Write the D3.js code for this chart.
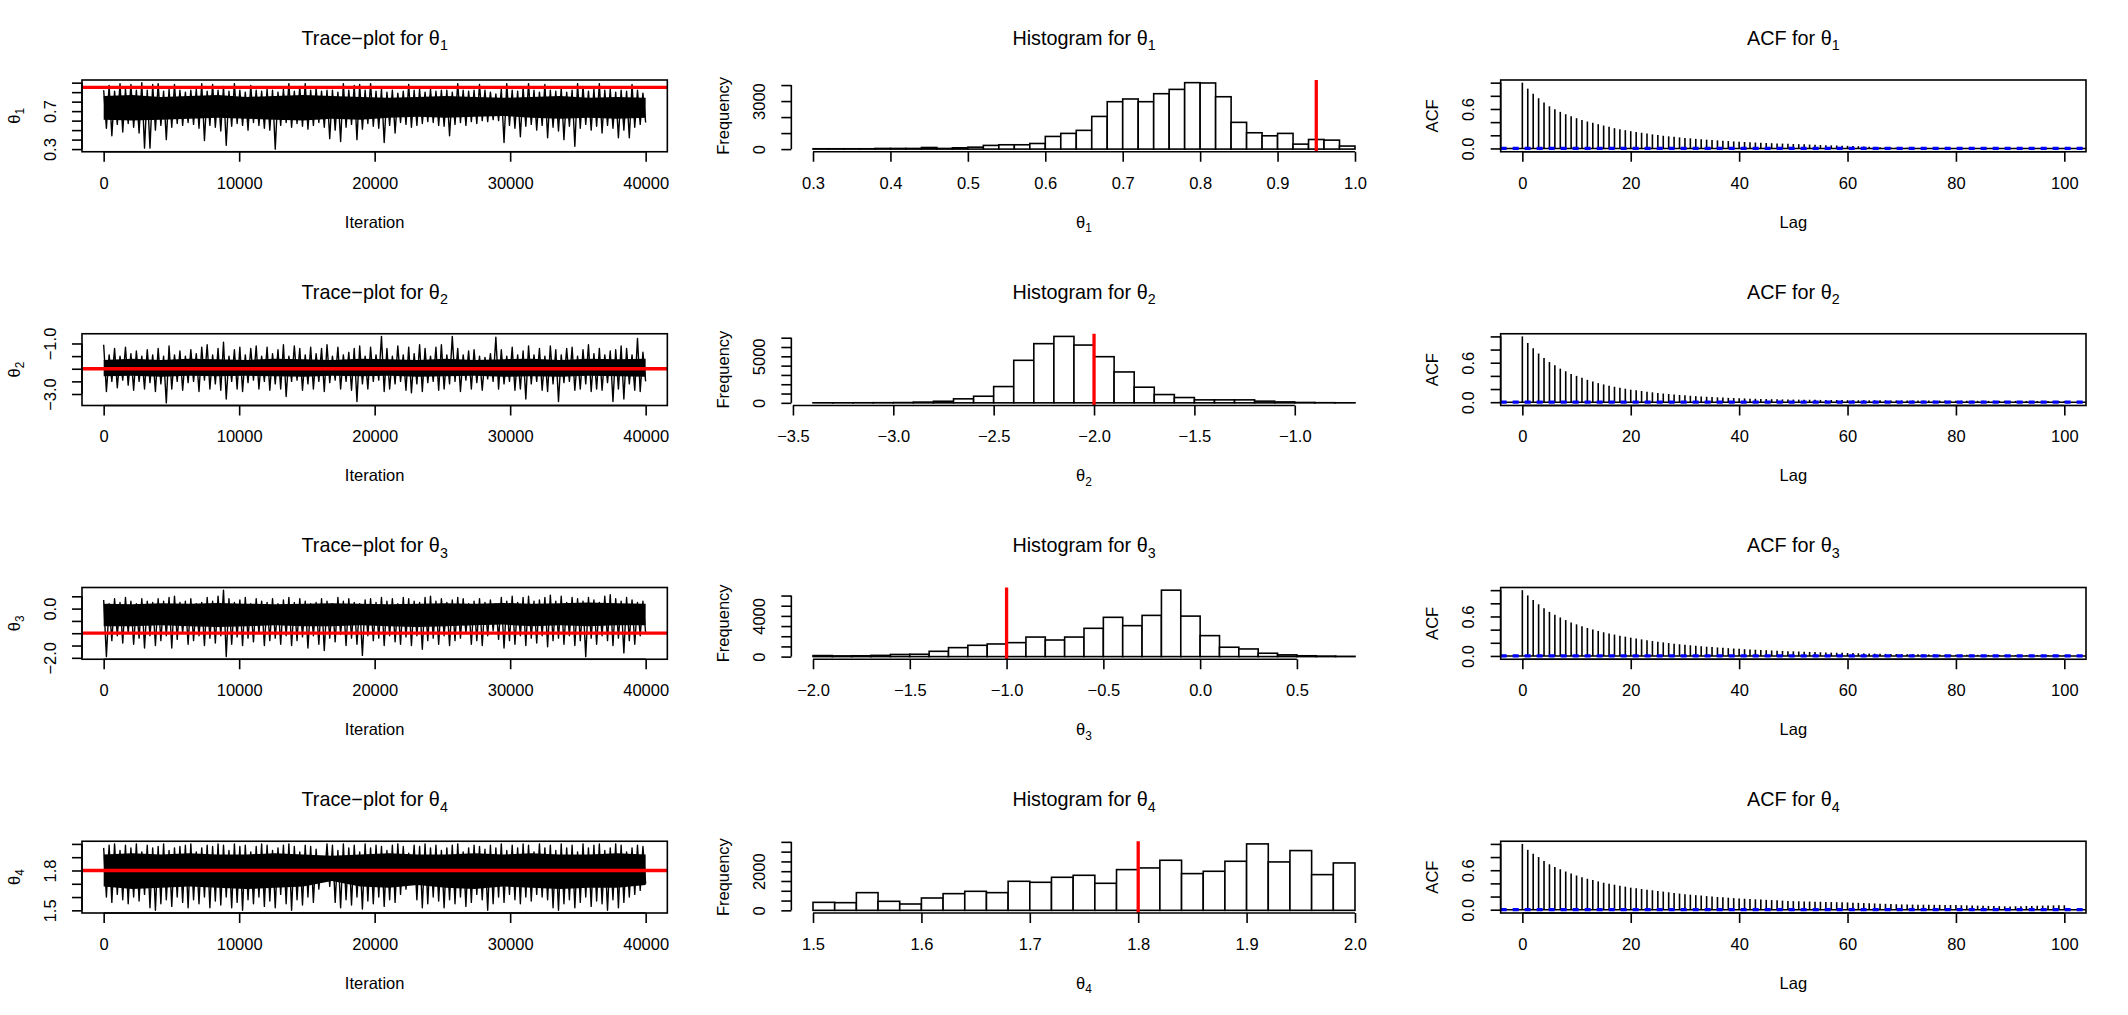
<!DOCTYPE html>
<html><head><meta charset="utf-8">
<script src="https://cdn.jsdelivr.net/npm/d3@7"></script>
<style>
body{margin:0;background:#fff}
svg{display:block;background:#fff}
</style>
</head><body>
<svg id="c" width="2128" height="1015"></svg>
<script>
// ---------------- DATA ----------------
const paramSubs = ["1","2","3","4"];
const trueValues = [0.95, -2.0, -1.0, 1.8];
const nIter = 40000;

// Trace extremes (upper / lower value per block of 400 iterations)
const hi1 = [0.92,0.97,0.91,0.99,0.93,0.98,0.92,1.00,0.92,0.98, 0.99,0.91,0.93,0.98,0.92,0.90,0.92,0.93,0.99,0.91,
 0.98,0.92,0.96,0.91,0.99,0.92,0.90,0.97,0.92,0.91, 0.93,0.92,0.90,0.93,0.99,0.91,0.96,0.99,0.92,0.94,
 0.91,0.92,0.92,0.90,0.99,0.92,0.97,0.98,0.92,0.99, 0.91,0.93,0.90,0.92,0.89,0.91,0.98,0.92,0.93,0.90,
 0.93,0.91,0.92,0.92,0.90,0.99,0.92,0.91,0.92,0.98, 0.92,0.90,0.88,0.93,0.99,0.92,0.91,0.95,0.99,0.92,
 0.90,0.98,0.92,0.91,0.94,0.90,0.92,0.99,0.96,0.91, 0.93,0.99,0.92,0.93,0.90,0.92,0.91,0.98,0.92,0.89];
const lo1 = [0.52,0.44,0.56,0.48,0.57,0.53,0.47,0.31,0.31,0.50, 0.55,0.40,0.53,0.57,0.55,0.58,0.56,0.52,0.39,0.55,
 0.53,0.49,0.34,0.54,0.57,0.55,0.50,0.58,0.55,0.52, 0.50,0.30,0.55,0.58,0.53,0.57,0.54,0.51,0.55,0.58,
 0.53,0.41,0.50,0.38,0.53,0.56,0.40,0.51,0.57,0.54, 0.52,0.37,0.55,0.47,0.58,0.56,0.53,0.55,0.57,0.59,
 0.58,0.55,0.54,0.44,0.56,0.58,0.55,0.59,0.57,0.60, 0.59,0.61,0.60,0.37,0.55,0.52,0.43,0.54,0.56,0.50,
 0.55,0.42,0.53,0.49,0.40,0.54,0.33,0.52,0.56,0.50, 0.54,0.47,0.55,0.52,0.42,0.50,0.42,0.53,0.56,0.58];
const hi2 = [-1.05,-1.45,-1.2,-1.5,-1.15,-1.4,-1.3,-1.5,-1.25,-1.45, -1.2,-1.5,-1.1,-1.45,-1.3,-1.5,-1.25,-1.4,-1.15,-1.05,
 -1.45,-1.2,-0.95,-1.5,-1.25,-1.15,-1.45,-1.2,-1.1,-1.5, -1.15,-1.4,-1.25,-1.05,-1.5,-1.1,-1.2,-1.45,-1.15,-1.4,
 -1.2,-1.05,-1.5,-1.15,-1.45,-1.35,-1.2,-1.1,-1.5,-1.15, -1.45,-0.72,-1.2,-1.5,-1.1,-1.45,-1.15,-1.4,-1.05,-1.2,
 -1.5,-1.15,-1.05,-1.45,-0.72,-1.2,-1.45,-1.3,-1.25,-1.5, -1.55,-1.4,-0.75,-1.25,-1.5,-1.15,-1.45,-1.3,-1.1,-1.45,
 -1.2,-1.5,-1.1,-1.25,-1.45,-1.2,-1.15,-1.5,-1.25,-1.05, -1.4,-1.2,-1.45,-1.3,-1.25,-1.1,-1.2,-1.45,-0.8,-1.35];
const lo2 = [-2.9,-2.5,-2.75,-2.45,-2.65,-2.85,-2.5,-2.8,-2.55,-2.9, -2.6,-3.35,-2.8,-2.5,-2.85,-2.55,-2.5,-2.9,-2.45,-2.8,
 -2.6,-2.85,-3.2,-2.5,-2.8,-2.9,-2.55,-2.45,-2.8,-2.5, -2.85,-2.6,-2.8,-3.1,-2.5,-2.45,-2.85,-2.6,-2.8,-2.5,
 -2.9,-2.55,-2.45,-2.8,-2.5,-2.85,-3.3,-2.6,-2.8,-2.5, -2.45,-2.9,-2.8,-2.6,-2.5,-2.85,-2.95,-2.6,-2.9,-2.55,
 -2.5,-2.85,-2.8,-2.6,-2.5,-2.9,-2.45,-2.8,-2.55,-2.85, -2.4,-2.5,-2.8,-2.6,-2.5,-2.85,-2.8,-3.2,-2.6,-2.5,
 -2.85,-2.9,-2.6,-3.3,-2.55,-2.5,-2.85,-2.8,-2.6,-2.9, -2.8,-2.85,-2.55,-3.3,-2.8,-3.2,-2.6,-2.85,-2.9,-2.5];
const hi3 = [0.35,0.2,0.4,0.25,0.45,0.3,0.2,0.4,0.3,0.25, 0.4,0.3,0.45,0.5,0.25,0.3,0.4,0.2,0.25,0.45,
 0.3,0.5,0.75,0.4,0.25,0.35,0.45,0.2,0.4,0.3, 0.25,0.4,0.2,0.35,0.45,0.25,0.4,0.3,0.2,0.25,
 0.4,0.3,0.2,0.45,0.3,0.4,0.25,0.2,0.35,0.4, 0.25,0.45,0.3,0.4,0.2,0.45,0.4,0.3,0.25,0.45,
 0.5,0.3,0.4,0.25,0.35,0.45,0.4,0.2,0.3,0.4, 0.25,0.35,0.2,0.45,0.3,0.5,0.25,0.45,0.5,0.3,
 0.35,0.45,0.55,0.3,0.5,0.25,0.45,0.4,0.3,0.45, 0.35,0.25,0.5,0.57,0.4,0.3,0.45,0.35,0.25,0.3];
const lo3 = [-1.95,-1.3,-1.1,-1.4,-1.0,-1.45,-1.2,-1.6,-1.1,-1.5, -1.3,-1.1,-1.6,-1.25,-1.0,-1.45,-1.3,-1.1,-1.5,-1.2,
 -1.4,-1.1,-1.95,-1.45,-1.15,-1.5,-1.2,-1.35,-1.0,-1.5, -1.3,-1.2,-1.45,-1.1,-1.5,-1.3,-1.15,-1.6,-1.1,-1.45,
 -1.7,-1.2,-1.35,-1.05,-1.5,-1.2,-1.45,-1.9,-1.1,-1.3, -1.2,-1.5,-1.1,-1.35,-1.45,-1.15,-1.5,-1.1,-1.65,-1.3,
 -1.2,-1.45,-1.1,-1.5,-1.3,-1.2,-1.0,-1.45,-1.3,-1.5, -1.1,-0.9,-1.25,-1.6,-1.3,-1.45,-1.1,-1.5,-1.2,-1.4,
 -1.1,-1.55,-1.3,-1.2,-1.45,-1.1,-1.5,-1.3,-1.95,-1.2, -1.45,-1.1,-1.3,-1.5,-1.2,-1.8,-1.3,-1.45,-1.1,-1.0];
const hi4 = [1.97,1.99,2.0,1.95,1.99,1.97,2.0,1.94,1.99,1.97, 1.98,2.0,1.95,1.97,1.98,1.99,2.0,1.94,1.97,1.99,
 1.98,2.0,1.99,1.95,2.0,1.98,1.99,1.94,1.98,2.0, 1.99,1.95,1.97,1.99,2.0,1.98,1.94,1.99,1.98,1.96,
 1.9,2.0,1.99,1.95,2.0,1.97,1.99,1.94,2.0,1.97, 1.99,1.98,1.95,1.99,2.0,1.98,1.93,1.99,1.98,2.0,
 1.97,1.99,1.95,1.97,1.99,2.0,1.94,1.97,1.99,1.98, 1.96,1.99,1.97,2.0,1.95,1.99,1.97,2.0,1.99,1.94,
 2.0,1.97,1.99,1.95,2.0,1.97,1.99,1.94,2.0,1.97, 1.99,2.0,1.95,1.97,2.0,1.99,1.94,1.97,1.99,1.98];
const lo4 = [1.6,1.56,1.62,1.58,1.55,1.6,1.57,1.62,1.52,1.5, 1.55,1.58,1.53,1.6,1.56,1.52,1.58,1.55,1.6,1.52,
 1.57,1.54,1.6,1.52,1.56,1.5,1.58,1.55,1.6,1.53, 1.57,1.52,1.62,1.55,1.5,1.58,1.54,1.6,1.56,1.66,
 1.72,1.68,1.56,1.52,1.58,1.54,1.6,1.51,1.57,1.55, 1.6,1.53,1.58,1.56,1.62,1.66,1.7,1.58,1.52,1.55,
 1.6,1.57,1.52,1.58,1.55,1.6,1.53,1.56,1.62,1.58, 1.5,1.55,1.6,1.56,1.62,1.58,1.55,1.6,1.57,1.62,
 1.6,1.58,1.52,1.5,1.55,1.58,1.52,1.56,1.6,1.53, 1.57,1.55,1.5,1.58,1.52,1.56,1.6,1.62,1.65,1.7];
// Dense core of each trace (upper / lower edge per block of 2000 iterations)
const coreHi1 = [0.86,0.87,0.85,0.86,0.87,0.85,0.86,0.87,0.86,0.85,0.84,0.85,0.86,0.85,0.84,0.85,0.86,0.84,0.85,0.84];
const coreLo1 = [0.61,0.60,0.61,0.62,0.63,0.62,0.61,0.60,0.62,0.61,0.63,0.64,0.63,0.64,0.65,0.63,0.62,0.63,0.62,0.63];
const coreHi2 = [-1.65,-1.6,-1.65,-1.6,-1.62,-1.65,-1.6,-1.62,-1.65,-1.6,-1.62,-1.65,-1.6,-1.65,-1.62,-1.6,-1.65,-1.6,-1.62,-1.6];
const coreLo2 = [-2.3,-2.28,-2.32,-2.28,-2.3,-2.28,-2.3,-2.32,-2.28,-2.3,-2.28,-2.32,-2.3,-2.28,-2.32,-2.3,-2.32,-2.28,-2.3,-2.32];
const coreHi3 = [0.2,0.18,0.22,0.2,0.23,0.2,0.18,0.2,0.22,0.2,0.18,0.2,0.22,0.2,0.23,0.2,0.22,0.25,0.22,0.2];
const coreLo3 = [-0.72,-0.72,-0.68,-0.72,-0.75,-0.72,-0.68,-0.72,-0.72,-0.68,-0.72,-0.75,-0.72,-0.68,-0.65,-0.72,-0.68,-0.72,-0.68,-0.68];
const coreHi4 = [1.92,1.93,1.92,1.93,1.92,1.92,1.93,1.92,1.91,1.92,1.93,1.92,1.92,1.93,1.92,1.93,1.92,1.92,1.93,1.92];
const coreLo4 = [1.68,1.66,1.67,1.68,1.67,1.66,1.67,1.68,1.72,1.68,1.67,1.69,1.67,1.66,1.68,1.67,1.66,1.67,1.67,1.69];

// Histograms: first break, bin width, counts
const histStart = [0.3, -3.4, -2.0, 1.5];
const histWidth = [0.02, 0.1, 0.1, 0.02];
const counts1 = [20,20,20,20,40,40,40,100,40,80,120,230,270,270,350,790,980,1170,2040,2960,3130,2960,3460,3730,4150,4130,3270,1670,1020,830,980,310,600,560,190];
const counts2 = [5,5,10,15,30,80,170,430,710,1750,4570,6360,7140,6210,4960,3320,1680,890,570,320,320,320,180,100,40,15,5];
const counts3 = [100,70,80,120,210,230,520,880,1110,1240,1370,1920,1630,1920,2780,3860,3040,4050,6530,3980,2060,920,750,330,170,80,50,25];
const counts4 = [409,392,904,461,324,631,853,972,904,1484,1433,1689,1791,1382,2081,2167,2559,1877,1996,2508,3395,2474,3054,1825,2422];

// ACF (lags 0..100)
const acf1 = [1.000,0.909,0.833,0.763,0.697,0.641,0.596,0.556,0.520,0.490,
 0.460,0.434,0.409,0.389,0.369,0.348,0.328,0.308,0.293,0.278,
 0.263,0.250,0.238,0.226,0.214,0.203,0.193,0.184,0.176,0.168,
 0.160,0.153,0.146,0.140,0.134,0.128,0.122,0.117,0.112,0.107,
 0.102,0.098,0.094,0.090,0.087,0.083,0.080,0.077,0.074,0.071,
 0.068,0.065,0.062,0.059,0.056,0.053,0.050,0.047,0.045,0.042,
 0.040,0.037,0.034,0.030,0.026,0.022,0.019,0.016,0.014,0.012,
 0.010,0.009,0.008,0.008,0.007,0.007,0.006,0.006,0.005,0.005,
 0.005,0.004,0.004,0.004,0.003,0.003,0.003,0.003,0.002,0.002,
 0.002,0.002,0.002,0.001,0.001,0.001,0.001,0.001,0.001,0.001,0.001];
const acf2 = [1.000,0.900,0.820,0.740,0.670,0.610,0.560,0.510,0.470,0.430,
 0.400,0.370,0.340,0.315,0.290,0.270,0.250,0.235,0.220,0.205,
 0.190,0.180,0.170,0.160,0.150,0.140,0.132,0.125,0.118,0.110,
 0.104,0.098,0.093,0.088,0.083,0.078,0.074,0.070,0.066,0.063,
 0.060,0.057,0.054,0.052,0.050,0.048,0.046,0.044,0.042,0.041,
 0.040,0.039,0.038,0.037,0.036,0.035,0.034,0.033,0.033,0.032,
 0.031,0.031,0.030,0.030,0.029,0.029,0.028,0.028,0.027,0.027,
 0.026,0.026,0.026,0.025,0.025,0.025,0.024,0.024,0.024,0.023,
 0.023,0.023,0.022,0.022,0.022,0.022,0.021,0.021,0.021,0.021,
 0.020,0.020,0.020,0.020,0.020,0.019,0.019,0.019,0.019,0.019,0.018];
const acf3 = [1.000,0.920,0.850,0.785,0.725,0.670,0.625,0.585,0.545,0.510,
 0.480,0.452,0.425,0.402,0.380,0.360,0.342,0.325,0.308,0.293,
 0.278,0.265,0.252,0.240,0.228,0.217,0.206,0.196,0.187,0.178,
 0.170,0.162,0.155,0.148,0.141,0.135,0.129,0.123,0.118,0.113,
 0.108,0.103,0.099,0.095,0.091,0.087,0.083,0.080,0.076,0.073,
 0.070,0.067,0.064,0.061,0.059,0.056,0.054,0.051,0.049,0.047,
 0.045,0.043,0.041,0.039,0.037,0.035,0.034,0.032,0.031,0.030,
 0.028,0.027,0.026,0.025,0.024,0.023,0.022,0.021,0.020,0.020,
 0.019,0.018,0.018,0.017,0.017,0.016,0.016,0.015,0.015,0.015,
 0.014,0.014,0.014,0.013,0.013,0.013,0.012,0.012,0.012,0.012,0.012];
const acf4 = [1.000,0.910,0.850,0.800,0.740,0.690,0.650,0.615,0.580,0.550,
 0.520,0.495,0.470,0.450,0.430,0.410,0.395,0.380,0.365,0.350,
 0.335,0.325,0.315,0.305,0.295,0.285,0.275,0.265,0.255,0.245,
 0.235,0.228,0.221,0.214,0.207,0.200,0.194,0.188,0.182,0.176,
 0.170,0.166,0.162,0.158,0.154,0.150,0.146,0.142,0.138,0.134,
 0.130,0.128,0.126,0.124,0.122,0.120,0.118,0.116,0.114,0.112,
 0.110,0.107,0.104,0.101,0.098,0.095,0.092,0.089,0.086,0.083,
 0.080,0.079,0.078,0.077,0.076,0.075,0.074,0.073,0.072,0.071,
 0.070,0.068,0.066,0.064,0.062,0.060,0.058,0.056,0.054,0.052,
 0.050,0.052,0.054,0.056,0.058,0.060,0.062,0.064,0.066,0.068,0.068];
const acfBound = 0.0098;

// Tick values and labels
const iterTicks = [0,10000,20000,30000,40000];
const iterLabels = ["0","10000","20000","30000","40000"];
const traceYTicks = [[0.3,0.4,0.5,0.6,0.7,0.8,0.9,1.0],[-3.0,-2.5,-2.0,-1.5,-1.0],[-2.0,-1.5,-1.0,-0.5,0.0,0.5],[1.5,1.6,1.7,1.8,1.9,2.0]];
const traceYLabels = [["0.3","","","","0.7","","",""],["−3.0","","","","−1.0"],["−2.0","","","","0.0",""],["1.5","","","1.8","",""]];
const histXTicks = [[0.3,0.4,0.5,0.6,0.7,0.8,0.9,1.0],[-3.5,-3.0,-2.5,-2.0,-1.5,-1.0],[-2.0,-1.5,-1.0,-0.5,0.0,0.5],[1.5,1.6,1.7,1.8,1.9,2.0]];
const histXLabels = [["0.3","0.4","0.5","0.6","0.7","0.8","0.9","1.0"],["−3.5","−3.0","−2.5","−2.0","−1.5","−1.0"],["−2.0","−1.5","−1.0","−0.5","0.0","0.5"],["1.5","1.6","1.7","1.8","1.9","2.0"]];
const histYTicks = [[0,1000,2000,3000,4000],[0,1000,2000,3000,4000,5000,6000,7000],[0,1000,2000,3000,4000,5000,6000],[0,500,1000,1500,2000,2500,3000,3500]];
const histYLabels = [["0","","","3000",""],["0","","","","","5000","",""],["0","","","","4000","",""],["0","","","","2000","","",""]];
const lagTicks = [0,20,40,60,80,100];
const lagLabels = ["0","20","40","60","80","100"];
const acfYTicks = [0,0.2,0.4,0.6,0.8,1.0];
const acfYLabels = ["0.0","","","0.6","",""];

// ---------------- DRAWING ----------------
const traceHi = [hi1,hi2,hi3,hi4], traceLo = [lo1,lo2,lo3,lo4];
const coreHi = [coreHi1,coreHi2,coreHi3,coreHi4], coreLo = [coreLo1,coreLo2,coreLo3,coreLo4];
const histCounts = [counts1,counts2,counts3,counts4];
const acfs = [acf1,acf2,acf3,acf4];

const W = 2128, H = 1015;
const svg = d3.select("#c");
const FONT = "'Liberation Sans', Arial, Helvetica, sans-serif";
const FS = 16.5, FST = 19.8, LW = 1.6, RED = "#ff0000";
const cellW = W/3, cellH = H/4;
const mar = {top: 80, right: 42, bottom: 102, left: 82};

function expand(e){ const d = (e[1]-e[0])*0.04; return [e[0]-d, e[1]+d]; }
function panel(r,c){
  return {x0: c*cellW+mar.left, x1: (c+1)*cellW-mar.right, y0: r*cellH+mar.top, y1: (r+1)*cellH-mar.bottom, cy: r*cellH};
}
function label(x, y, base, sub, fs, rot){
  const t = svg.append("text").attr("font-family", FONT).attr("font-size", fs)
    .attr("text-anchor","middle").attr("fill","#000");
  if (rot) t.attr("transform", `translate(${x},${y}) rotate(-90)`); else t.attr("x",x).attr("y",y);
  t.append("tspan").attr("dy","0.35em").text(base);
  if (sub) t.append("tspan").attr("font-size", fs*0.72).attr("dy", fs*0.28).text(sub);
  return t;
}
function xAxis(scale, y, ticks, labels){
  const a = svg.append("g").attr("transform",`translate(0,${y})`)
    .call(d3.axisBottom(scale).tickValues(ticks).tickFormat((d,i)=>labels[i]).tickSize(10).tickSizeOuter(0));
  a.attr("font-family", FONT).attr("font-size", FS);
  a.select(".domain").remove();
  a.append("line").attr("x1", scale(ticks[0])).attr("x2", scale(ticks[ticks.length-1]))
    .attr("stroke","#000").attr("stroke-width",LW);
  a.selectAll(".tick line").attr("stroke","#000").attr("stroke-width",LW);
  a.selectAll(".tick text").attr("y",31).attr("dy","0.35em").attr("fill","#000");
}
function yAxis(scale, x, ticks, labels){
  const a = svg.append("g").attr("transform",`translate(${x},0)`)
    .call(d3.axisLeft(scale).tickValues(ticks).tickFormat((d,i)=>labels[i]).tickSize(10).tickSizeOuter(0));
  a.attr("font-family", FONT).attr("font-size", FS);
  a.select(".domain").remove();
  a.append("line").attr("y1", scale(ticks[0])).attr("y2", scale(ticks[ticks.length-1]))
    .attr("stroke","#000").attr("stroke-width",LW);
  a.selectAll(".tick line").attr("stroke","#000").attr("stroke-width",LW);
  a.selectAll(".tick text").attr("x",null).attr("dy","0.35em").attr("text-anchor","middle")
    .attr("transform","translate(-32,0) rotate(-90)").attr("fill","#000");
}
function box(P){
  svg.append("rect").attr("x",P.x0).attr("y",P.y0).attr("width",P.x1-P.x0).attr("height",P.y1-P.y0)
    .attr("fill","none").attr("stroke","#000").attr("stroke-width",LW);
}
function clip(id, P){
  svg.append("clipPath").attr("id",id).append("rect").attr("x",P.x0).attr("y",P.y0)
    .attr("width",P.x1-P.x0).attr("height",P.y1-P.y0);
  return `url(#${id})`;
}

paramSubs.forEach((s, r) => {
  // ---- Trace plot ----
  {
    const P = panel(r,0);
    const hi = traceHi[r], lo = traceLo[r], n = hi.length;
    const pts = [];
    for (let i=0;i<n;i++){ pts.push(hi[i]); pts.push(lo[i]); }
    const step = (nIter-1)/(pts.length-1);
    const x = d3.scaleLinear().domain(expand([1,nIter])).range([P.x0,P.x1]);
    const y = d3.scaleLinear().domain(expand(d3.extent(pts))).range([P.y1,P.y0]);
    const cp = clip("ct"+r, P);
    const ch = coreHi[r], cl = coreLo[r], cstep = (nIter-1)/(ch.length-1);
    svg.append("path").attr("clip-path",cp).attr("fill","#000").attr("stroke","none")
      .attr("d", d3.area().x((d,i)=>x(1+i*cstep)).y0((d,i)=>y(cl[i])).y1(d=>y(d))(ch));
    svg.append("path").attr("clip-path",cp).attr("fill","none").attr("stroke","#000").attr("stroke-width",1.4)
      .attr("stroke-linejoin","round")
      .attr("d", d3.line().x((d,i)=>x(1+i*step)).y(d=>y(d))(pts));
    svg.append("line").attr("clip-path",cp).attr("x1",P.x0).attr("x2",P.x1)
      .attr("y1",y(trueValues[r])).attr("y2",y(trueValues[r])).attr("stroke",RED).attr("stroke-width",3.3);
    xAxis(x, P.y1, iterTicks, iterLabels);
    yAxis(y, P.x0, traceYTicks[r], traceYLabels[r]);
    box(P);
    label((P.x0+P.x1)/2, P.cy+38, "Trace−plot for θ", s, FST, false);
    label((P.x0+P.x1)/2, P.y1+70, "Iteration", null, FS, false);
    label(P.x0-68, (P.y0+P.y1)/2, "θ", s, FS, true);
  }
  // ---- Histogram ----
  {
    const P = panel(r,1);
    const c = histCounts[r], b0 = histStart[r], w = histWidth[r];
    const bins = c.map((v,i)=>({a: b0+i*w, b: b0+(i+1)*w, v}));
    const x = d3.scaleLinear().domain(expand([b0, b0+c.length*w])).range([P.x0,P.x1]);
    const y = d3.scaleLinear().domain(expand([0, d3.max(c)])).range([P.y1,P.y0]);
    svg.append("g").selectAll("rect").data(bins).join("rect")
      .attr("x",d=>x(d.a)).attr("width",d=>x(d.b)-x(d.a))
      .attr("y",d=>y(d.v)).attr("height",d=>y(0)-y(d.v))
      .attr("fill","#fff").attr("stroke","#000").attr("stroke-width",LW);
    svg.append("line").attr("x1",x(trueValues[r])).attr("x2",x(trueValues[r]))
      .attr("y1",P.y0).attr("y2",P.y1).attr("stroke",RED).attr("stroke-width",3.3);
    xAxis(x, P.y1, histXTicks[r], histXLabels[r]);
    yAxis(y, P.x0, histYTicks[r], histYLabels[r]);
    label((P.x0+P.x1)/2, P.cy+38, "Histogram for θ", s, FST, false);
    label((P.x0+P.x1)/2, P.y1+70, "θ", s, FS, false);
    label(P.x0-68, (P.y0+P.y1)/2, "Frequency", null, FS, true);
  }
  // ---- ACF ----
  {
    const P = panel(r,2);
    const a = acfs[r];
    const lags = a.map((v,i)=>({lag:i, v}));
    const x = d3.scaleLinear().domain(expand([0, a.length-1])).range([P.x0,P.x1]);
    const y = d3.scaleLinear().domain(expand([Math.min(-acfBound, d3.min(a)), Math.max(acfBound, d3.max(a))])).range([P.y1,P.y0]);
    const cp = clip("ca"+r, P);
    svg.append("g").selectAll("line").data(lags).join("line")
      .attr("x1",d=>x(d.lag)).attr("x2",d=>x(d.lag)).attr("y1",y(0)).attr("y2",d=>y(d.v))
      .attr("stroke","#000").attr("stroke-width",LW);
    svg.append("line").attr("clip-path",cp).attr("x1",P.x0).attr("x2",P.x1).attr("y1",y(0)).attr("y2",y(0))
      .attr("stroke","#000").attr("stroke-width",LW);
    [acfBound, -acfBound].forEach(v => {
      svg.append("line").attr("clip-path",cp).attr("x1",P.x0).attr("x2",P.x1).attr("y1",y(v)).attr("y2",y(v))
        .attr("stroke","#0000ff").attr("stroke-width",2).attr("stroke-dasharray","6,6");
    });
    xAxis(x, P.y1, lagTicks, lagLabels);
    yAxis(y, P.x0, acfYTicks, acfYLabels);
    box(P);
    label((P.x0+P.x1)/2, P.cy+38, "ACF for θ", s, FST, false);
    label((P.x0+P.x1)/2, P.y1+70, "Lag", null, FS, false);
    label(P.x0-68, (P.y0+P.y1)/2, "ACF", null, FS, true);
  }
});
</script>
</body></html>
